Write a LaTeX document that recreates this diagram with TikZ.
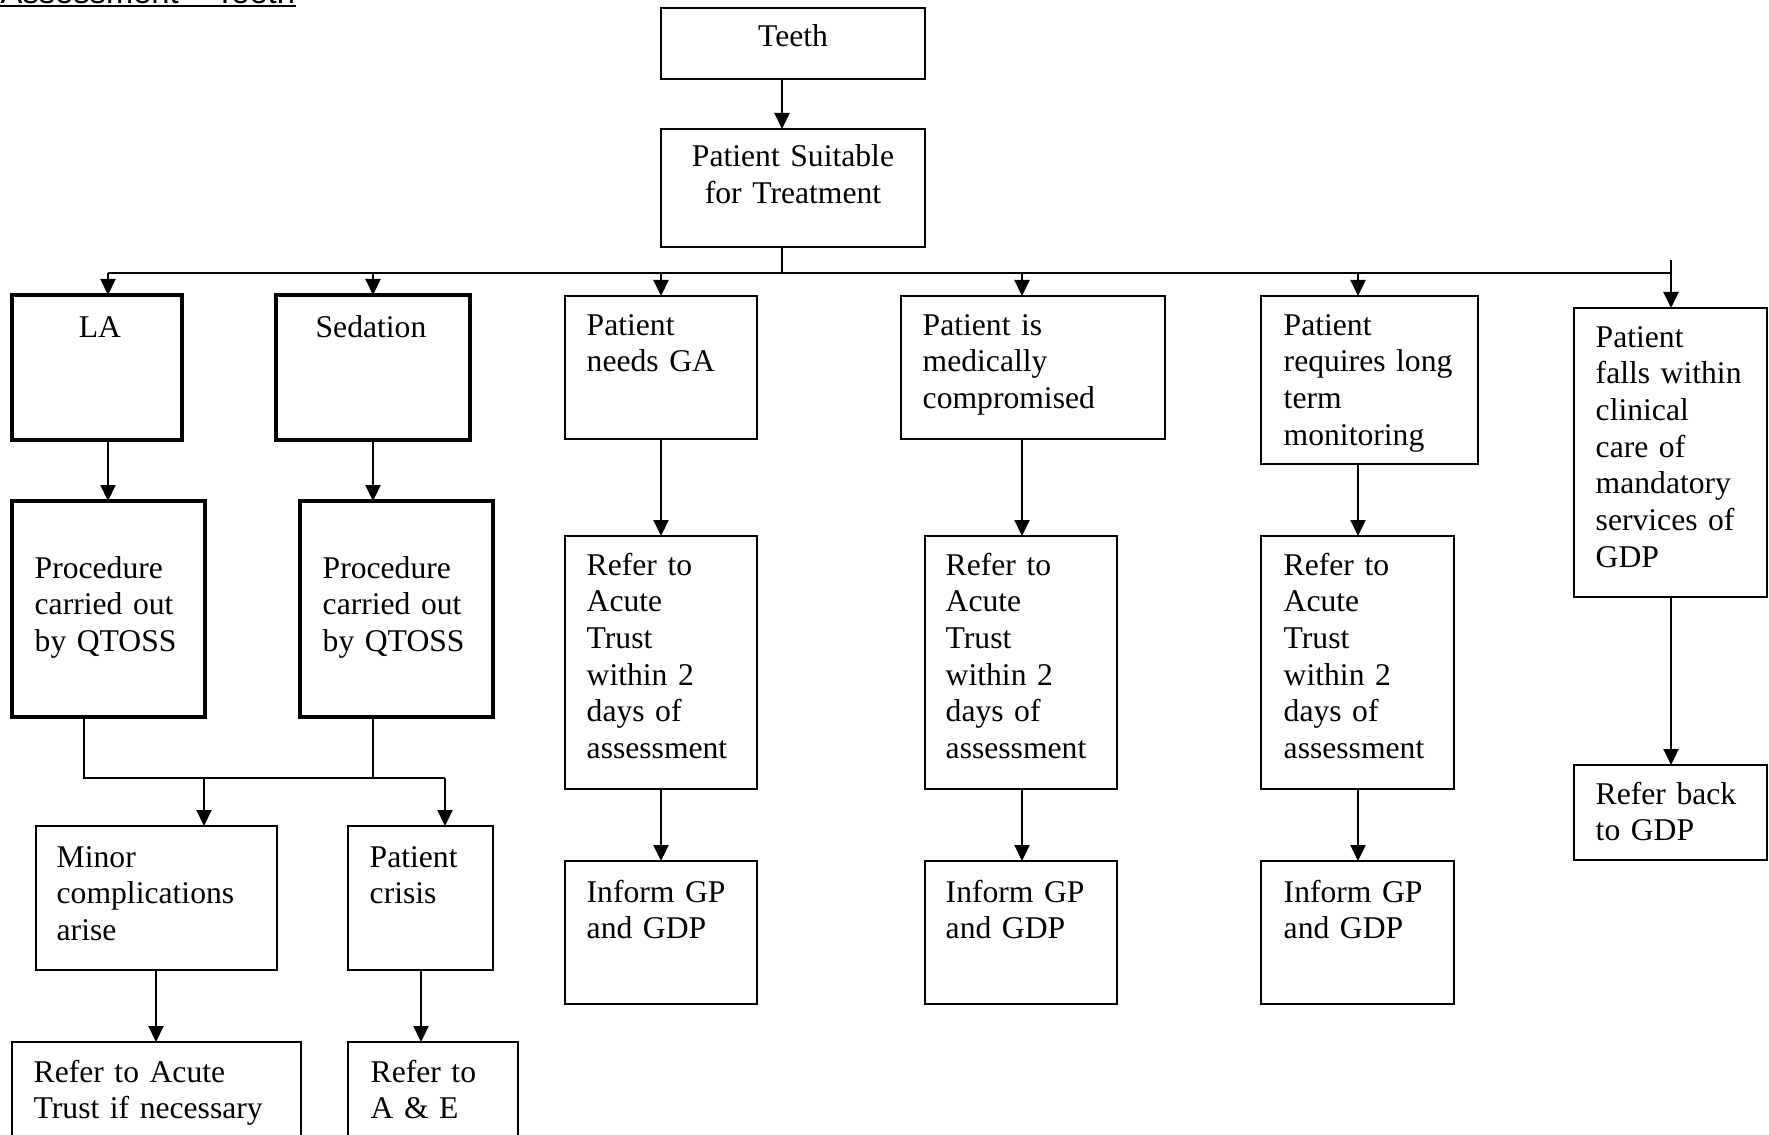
\documentclass[tikz,border=0pt]{standalone}
\usepackage{fontspec}
\setmainfont{Liberation Serif}
\newfontfamily\hdrfont{Liberation Sans}
\usetikzlibrary{arrows.meta,calc}

% box from its left/top/right/bottom edges (1 unit = 0.1 mm, y grows downwards)
\newcommand\flowbox[6]{%
  \node[#1, anchor=north west,
        minimum width={(#5-#3)*0.1mm}, minimum height={(#6-#4)*0.1mm}] (#2) at (#3,#4) {};}
% left-aligned text block: name, left x, first baseline y, width, text
\newcommand\flowtext[5]{%
  \node[txt, anchor=base west, text width={#4*0.1mm}] (#1) at (#2,#3) {#5};}

\begin{document}
\begin{tikzpicture}[x=0.1mm, y=-0.1mm,
  box/.style={draw, line width=0.6pt, outer sep=0pt, inner sep=0pt},
  thickbox/.style={box, line width=1.2pt},
  txt/.style={inner sep=0pt, align=left, font={\fontsize{9}{10.45}\selectfont}},
  txtc/.style={txt, align=center},
  link/.style={line width=0.6pt},
  arr/.style={link, -{Triangle[length=1.6mm,width=1.5mm]}},
]
\fill[white] (0,0) rectangle (1769,1134);
\useasboundingbox (0,0) rectangle (1769,1134);

% heading
\node[inner sep=0pt, anchor=base west, font={\hdrfont\fontsize{9.3}{11}\selectfont}] (hdr) at (0,3.3) {Assessment – Teeth};
\draw[line width=0.7pt] ($(hdr.base west)+(0,2.7)$) -- ($(hdr.base east)+(0,2.7)$);

% guide coordinates for connector columns and rails
\coordinate (bar) at (0,273);
\coordinate (merge) at (0,778);
\coordinate (xA) at (782,0);
\coordinate (xLA) at (108,0);
\coordinate (xSED) at (373,0);
\coordinate (xGA) at (661,0);
\coordinate (xMC) at (1022,0);
\coordinate (xLT) at (1358,0);
\coordinate (xF) at (1671,0);
\coordinate (xLAo) at (84,0);
\coordinate (xMin) at (204,0);
\coordinate (xCr) at (445,0);
\coordinate (xMinO) at (156,0);
\coordinate (xCrO) at (421,0);
\coordinate (fstub) at (1671,260);

% boxes
\flowbox{box}{teeth}{661}{8}{925}{79}
\flowbox{box}{suit}{661}{129}{925}{247}
\flowbox{thickbox}{la}{12}{295}{182}{440}
\flowbox{thickbox}{sed}{276}{295}{470}{440}
\flowbox{thickbox}{procla}{12}{501}{205}{717}
\flowbox{thickbox}{procsed}{300}{501}{493}{717}
\flowbox{box}{minor}{36}{826}{277}{970}
\flowbox{box}{crisis}{348}{826}{493}{970}
\flowbox{box}{acute}{12}{1042}{301}{1170}
\flowbox{box}{ae}{348}{1042}{518}{1170}
\flowbox{box}{ga}{565}{296}{757}{439}
\flowbox{box}{mc}{901}{296}{1165}{439}
\flowbox{box}{lt}{1261}{296}{1478}{464}
\flowbox{box}{falls}{1574}{308}{1767}{597}
\flowbox{box}{refga}{565}{536}{757}{789}
\flowbox{box}{refmc}{925}{536}{1117}{789}
\flowbox{box}{reflt}{1261}{536}{1454}{789}
\flowbox{box}{infga}{565}{861}{757}{1004}
\flowbox{box}{infmc}{925}{861}{1117}{1004}
\flowbox{box}{inflt}{1261}{861}{1454}{1004}
\flowbox{box}{back}{1574}{765}{1767}{860}

% texts
\node[txtc, anchor=base, text width=24mm] (teeth-t) at (793,47) {Teeth};
\node[txtc, anchor=base, text width=24mm] (suit-t) at (793,167) {Patient Suitable\\for Treatment};
\node[txtc, anchor=base, text width=15mm] (la-t) at (100,337) {LA};
\node[txtc, anchor=base, text width=17mm] (sed-t) at (371,337) {Sedation};
\flowtext{procla-t}{34}{578}{163}{Procedure\\carried out\\by QTOSS}
\flowtext{procsed-t}{322}{578}{163}{Procedure\\carried out\\by QTOSS}
\flowtext{minor-t}{56}{867}{213}{Minor\\complications\\arise}
\flowtext{crisis-t}{369}{867}{119}{Patient\\crisis}
\flowtext{acute-t}{33}{1082}{263}{Refer to Acute\\Trust if necessary}
\flowtext{ae-t}{370}{1082}{143}{Refer to\\A \& E}
\flowtext{ga-t}{586}{335}{166}{Patient\\needs GA}
\flowtext{mc-t}{922}{335}{238}{Patient is\\medically\\compromised}
\flowtext{lt-t}{1283}{335}{190}{Patient\\requires long\\term\\monitoring}
\flowtext{falls-t}{1595}{347}{167}{Patient\\falls within\\clinical\\care of\\mandatory\\services of\\GDP}
\flowtext{refga-t}{586}{575}{166}{Refer to\\Acute\\Trust\\within 2\\days of\\assessment}
\flowtext{refmc-t}{945}{575}{167}{Refer to\\Acute\\Trust\\within 2\\days of\\assessment}
\flowtext{reflt-t}{1283}{575}{166}{Refer to\\Acute\\Trust\\within 2\\days of\\assessment}
\flowtext{infga-t}{586}{902}{166}{Inform GP\\and GDP}
\flowtext{infmc-t}{945}{902}{167}{Inform GP\\and GDP}
\flowtext{inflt-t}{1283}{902}{166}{Inform GP\\and GDP}
\flowtext{back-t}{1595}{804}{167}{Refer back\\to GDP}

% connectors
\draw[arr] (teeth.south -| xA) -- (suit.north -| xA);
\draw[link] (suit.south -| xA) -- (xA |- bar);
\draw[link] (xLA |- bar) -- (xF |- bar);
\draw[arr] (xLA |- bar) -- (la.north -| xLA);
\draw[arr] (xSED |- bar) -- (sed.north -| xSED);
\draw[arr] (xGA |- bar) -- (ga.north -| xGA);
\draw[arr] (xMC |- bar) -- (mc.north -| xMC);
\draw[arr] (xLT |- bar) -- (lt.north -| xLT);
\draw[arr] (fstub) -- (falls.north -| xF);

\draw[arr] (la.south -| xLA) -- (procla.north -| xLA);
\draw[arr] (sed.south -| xSED) -- (procsed.north -| xSED);
\draw[link] (procla.south -| xLAo) -- (xLAo |- merge) -- (xCr |- merge);
\draw[link] (procsed.south -| xSED) -- (xSED |- merge);
\draw[arr] (xMin |- merge) -- (minor.north -| xMin);
\draw[arr] (xCr |- merge) -- (crisis.north -| xCr);
\draw[arr] (minor.south -| xMinO) -- (acute.north -| xMinO);
\draw[arr] (crisis.south -| xCrO) -- (ae.north -| xCrO);

\draw[arr] (ga.south -| xGA) -- (refga.north -| xGA);
\draw[arr] (refga.south -| xGA) -- (infga.north -| xGA);
\draw[arr] (mc.south -| xMC) -- (refmc.north -| xMC);
\draw[arr] (refmc.south -| xMC) -- (infmc.north -| xMC);
\draw[arr] (lt.south -| xLT) -- (reflt.north -| xLT);
\draw[arr] (reflt.south -| xLT) -- (inflt.north -| xLT);
\draw[arr] (falls.south -| xF) -- (back.north -| xF);
\end{tikzpicture}
\end{document}
